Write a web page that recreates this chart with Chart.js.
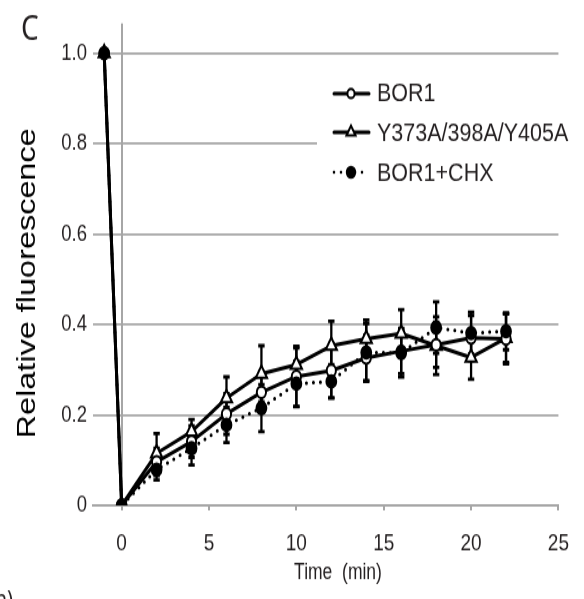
<!DOCTYPE html>
<html>
<head>
<meta charset="utf-8">
<script src="https://cdn.jsdelivr.net/npm/chart.js@4/dist/chart.umd.min.js"></script>
<style>
html, body { margin: 0; padding: 0; background: #ffffff; }
canvas { display: block; }
</style>
</head>
<body>
<canvas id="c" width="584" height="480" style="width:584px;height:599px"></canvas>
<script>
// ---- data ----
const times      = [-1, 0, 2, 4, 6, 8, 10, 12, 14, 16, 18, 20, 22];
const bor1       = [1.0, 0, 0.096, 0.141, 0.202, 0.250, 0.285, 0.298, 0.326, 0.341, 0.355, 0.370, 0.368];
const bor1Err    = [0, 0, 0.030, 0.035, 0.045, 0.045, 0.067, 0.060, 0.050, 0.050, 0.050, 0.050, 0.055];
const mutant     = [1.0, 0, 0.115, 0.163, 0.237, 0.291, 0.311, 0.353, 0.368, 0.380, 0.353, 0.327, 0.370];
const mutantErr  = [0, 0, 0.044, 0.027, 0.047, 0.062, 0.037, 0.054, 0.042, 0.053, 0.064, 0.048, 0.054];
const chx        = [1.0, 0, 0.079, 0.126, 0.178, 0.215, 0.269, 0.274, 0.338, 0.337, 0.393, 0.381, 0.385];
const chxErr     = [0, 0, 0.023, 0.037, 0.039, 0.052, 0.050, 0.037, 0.064, 0.053, 0.057, 0.046, 0.041];
const seriesNames = ['BOR1', 'Y373A/398A/Y405A', 'BOR1+CHX'];
const xTickLabels = ['0', '5', '10', '15', '20', '25'];
const yTickLabels = ['0', '0.2', '0.4', '0.6', '0.8', '1.0'];
const xTitle = 'Time  (min)';
const yTitle = 'Relative fluorescence';
const panelLabel = 'C';
const strayText = 'n)';

// ---- style ----
const GREY = '#a6a6a6';
const INK = '#231f20';
const FONT = '"Liberation Sans", Arial, sans-serif';

function points(vals) { return times.map((t, i) => ({ x: t, y: vals[i] })); }

const styles = [
  { pointStyle: 'circle', pointRadius: 4.6, fill: '#ffffff', dash: [], order: 1, legendR: 3.6 },
  { pointStyle: 'triangle', pointRadius: 6.5, fill: '#ffffff', dash: [], order: 2, legendR: 5.2 },
  { pointStyle: 'circle', pointRadius: 4.9, fill: '#000000', dash: [0, 7], order: 0, legendR: 4.2 }
];
const seriesVals = [bor1, mutant, chx];
const seriesErr = [bor1Err, mutantErr, chxErr];

const datasets = seriesNames.map((name, k) => ({
  label: name,
  data: points(seriesVals[k]),
  borderColor: '#000000',
  borderWidth: 3,
  borderDash: styles[k].dash,
  borderCapStyle: 'round',
  borderJoinStyle: 'round',
  pointStyle: styles[k].pointStyle,
  pointRadius: styles[k].pointRadius,
  pointBackgroundColor: styles[k].fill,
  pointBorderColor: '#000000',
  pointBorderWidth: 2,
  tension: 0,
  fill: false,
  order: styles[k].order
}));

const errorBars = {
  id: 'errorBars',
  beforeDatasetsDraw(chart) {
    const { ctx, scales: { x, y } } = chart;
    ctx.save();
    ctx.strokeStyle = '#000000';
    ctx.lineCap = 'butt';
    seriesErr.forEach((errs, k) => {
      errs.forEach((e, i) => {
        if (!e) return;
        const v = seriesVals[k][i];
        const px = x.getPixelForValue(times[i]);
        const top = y.getPixelForValue(v + e);
        const bot = y.getPixelForValue(v - e);
        ctx.lineWidth = 2.3;
        ctx.beginPath(); ctx.moveTo(px, top); ctx.lineTo(px, bot); ctx.stroke();
        ctx.lineWidth = 2.8;
        ctx.beginPath();
        ctx.moveTo(px - 3.2, top); ctx.lineTo(px + 3.2, top);
        ctx.moveTo(px - 3.2, bot); ctx.lineTo(px + 3.2, bot);
        ctx.stroke();
      });
    });
    ctx.restore();
  }
};

function drawMarker(ctx, style, r, cx, cy) {
  ctx.beginPath();
  if (style.pointStyle === 'triangle') {
    let rad = 0;
    ctx.moveTo(cx + Math.sin(rad) * r, cy - Math.cos(rad) * r);
    rad += 2 * Math.PI / 3;
    ctx.lineTo(cx + Math.sin(rad) * r, cy - Math.cos(rad) * r);
    rad += 2 * Math.PI / 3;
    ctx.lineTo(cx + Math.sin(rad) * r, cy - Math.cos(rad) * r);
    ctx.closePath();
  } else {
    ctx.arc(cx, cy, r, 0, Math.PI * 2);
  }
  ctx.fillStyle = style.fill;
  ctx.fill();
  ctx.lineWidth = 2;
  ctx.strokeStyle = '#000000';
  ctx.setLineDash([]);
  ctx.stroke();
}

const decorations = {
  id: 'decorations',
  afterDraw(chart) {
    const ctx = chart.ctx;
    ctx.save();
    // legend box
    ctx.fillStyle = '#ffffff';
    ctx.fillRect(317, 52, 267, 104);
    const rows = [74.9, 106, 138];
    seriesNames.forEach((name, k) => {
      const cy = rows[k];
      ctx.strokeStyle = '#000000';
      ctx.lineWidth = 3;
      ctx.lineCap = 'round';
      ctx.setLineDash(styles[k].dash);
      if (styles[k].dash.length) ctx.lineWidth = 2.6;
      ctx.beginPath(); ctx.moveTo(334, cy); ctx.lineTo(369, cy); ctx.stroke();
      ctx.setLineDash([]);
      drawMarker(ctx, styles[k], styles[k].legendR, 351, cy);
      ctx.save();
      ctx.translate(377, cy);
      ctx.scale(1, 0.95);
      ctx.fillStyle = INK;
      ctx.font = '21.5px ' + FONT;
      ctx.textAlign = 'left';
      ctx.textBaseline = 'middle';
      ctx.fillText(name, 0, 1);
      ctx.restore();
    });
    // y title
    ctx.save();
    ctx.translate(28, 227);
    ctx.rotate(-Math.PI / 2);
    ctx.fillStyle = '#000000';
    ctx.font = '26px ' + FONT;
    ctx.textAlign = 'center';
    ctx.textBaseline = 'middle';
    ctx.fillText(yTitle, 0, 0);
    ctx.restore();
    // x title
    ctx.fillStyle = INK;
    ctx.font = '17.5px ' + FONT;
    ctx.textAlign = 'center';
    ctx.textBaseline = 'middle';
    ctx.fillText(xTitle, 338, 459);
    // panel label
    ctx.font = '28px "Noto Sans", "Open Sans", sans-serif';
    ctx.textAlign = 'left';
    ctx.textBaseline = 'alphabetic';
    ctx.fillText(panelLabel, 21, 32);
    // stray fragment of neighbouring text
    ctx.font = '20px "Noto Sans", sans-serif';
    ctx.textAlign = 'right';
    ctx.fillText(strayText, 13, 487);
    ctx.restore();
  }
};

new Chart(document.getElementById('c'), {
  type: 'line',
  data: { datasets },
  options: {
    responsive: false,
    animation: false,
    events: [],
    layout: { padding: { left: 0, right: 25, top: 18.7, bottom: 0 } },
    plugins: { legend: { display: false }, tooltip: { enabled: false } },
    scales: {
      x: {
        type: 'linear',
        min: -1.64,
        max: 25,
        afterBuildTicks(scale) { scale.ticks = xTickLabels.map(v => ({ value: Number(v) })); },
        afterFit(scale) { scale.height = 480 - 404.9; },
        ticks: {
          autoSkip: false,
          maxRotation: 0,
          padding: 15,
          color: INK,
          font: { family: FONT, size: 19 },
          callback: (v, i) => xTickLabels[i]
        },
        grid: {
          color: ctx => (ctx.tick && ctx.tick.value === 0) ? GREY : 'rgba(0,0,0,0)',
          lineWidth: 2,
          drawTicks: true,
          tickLength: 4,
          tickColor: GREY,
          tickWidth: 2
        },
        border: { display: true, color: GREY, width: 2 }
      },
      y: {
        type: 'linear',
        min: 0,
        max: 1.066,
        afterBuildTicks(scale) { scale.ticks = yTickLabels.map(v => ({ value: Number(v) })); },
        afterFit(scale) { scale.width = 93; },
        ticks: {
          padding: 6,
          color: INK,
          font: { family: FONT, size: 18.5 },
          callback: (v, i) => yTickLabels[i]
        },
        grid: { color: GREY, lineWidth: 1.7, drawTicks: false },
        border: { display: false }
      }
    }
  },
  plugins: [errorBars, decorations]
});
</script>
</body>
</html>
